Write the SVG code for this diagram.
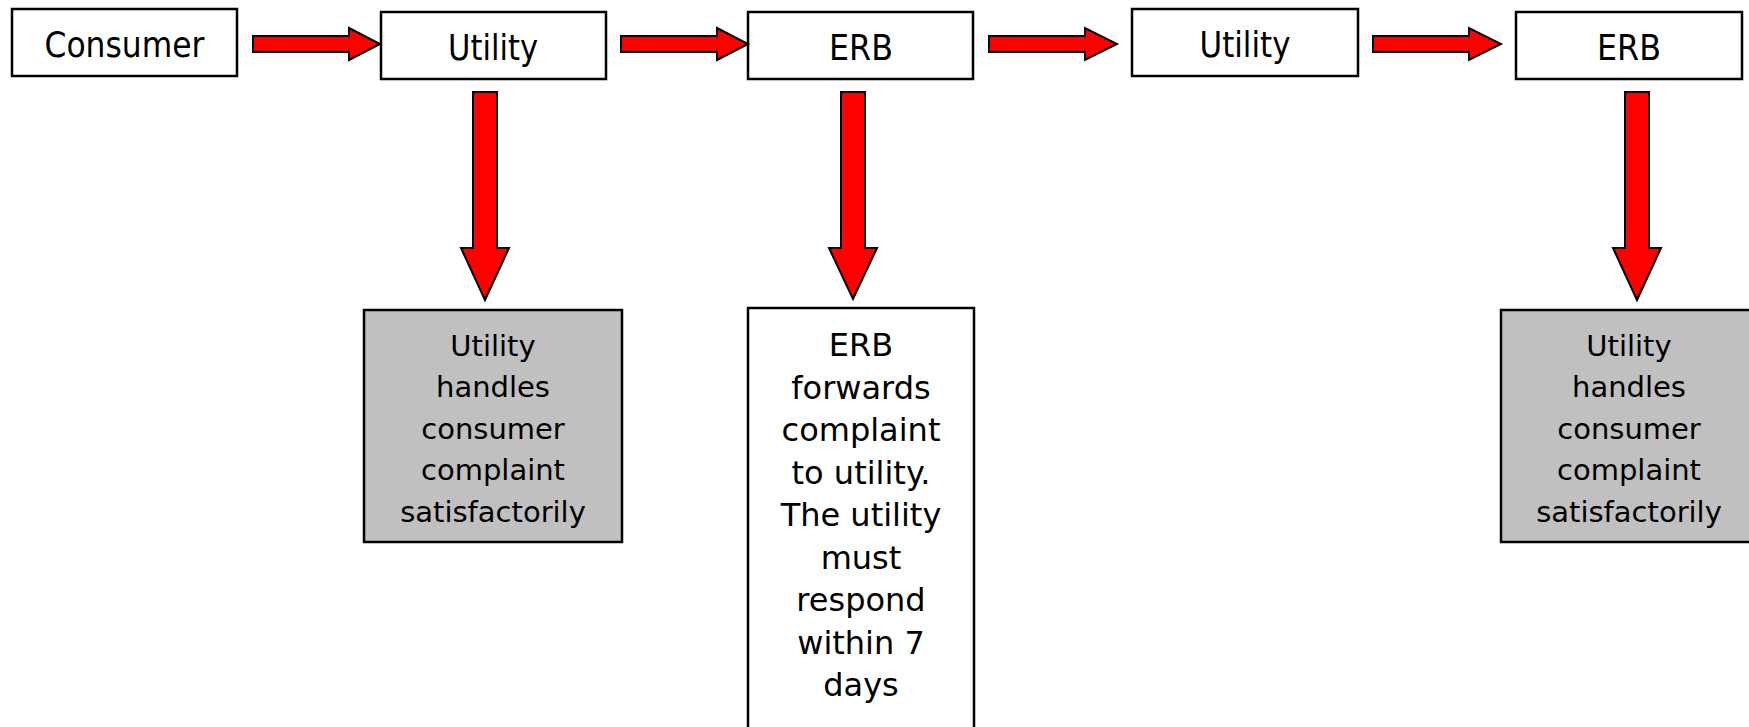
<svg xmlns="http://www.w3.org/2000/svg" width="1749" height="727" viewBox="0 0 1749 727">
<style>
.box{fill:#fff;stroke:#000;stroke-width:2.5}
.gray{fill:#c0c0c0;stroke:#000;stroke-width:2.5}
.arrow{fill:#ff0000;stroke:#000;stroke-width:2;stroke-linejoin:miter}
text{font-family:"DejaVu Sans",Verdana,sans-serif;fill:#000;text-anchor:middle}
.top{font-size:36px}
.g{font-size:29px}
.e{font-size:32px}
</style>
<rect width="1749" height="727" fill="#fff"/>
<g id="consumer"><rect class="box" x="12" y="9" width="225" height="67"/><text class="top" x="124.5" y="57" textLength="160" lengthAdjust="spacingAndGlyphs">Consumer</text></g>
<g id="utility1"><rect class="box" x="381" y="12" width="225" height="67"/><text class="top" x="493" y="60" textLength="90" lengthAdjust="spacingAndGlyphs">Utility</text></g>
<g id="erb1"><rect class="box" x="748" y="12" width="225" height="67"/><text class="top" x="861" y="60" textLength="64" lengthAdjust="spacingAndGlyphs">ERB</text></g>
<g id="utility2"><rect class="box" x="1132" y="9" width="226" height="67"/><text class="top" x="1245" y="57" textLength="91" lengthAdjust="spacingAndGlyphs">Utility</text></g>
<g id="erb2"><rect class="box" x="1516" y="12" width="226" height="67"/><text class="top" x="1629" y="60" textLength="64" lengthAdjust="spacingAndGlyphs">ERB</text></g>
<g id="result1"><rect class="gray" x="364" y="310" width="258" height="232"/>
<text class="g" x="493" y="356">Utility</text><text class="g" x="493" y="397">handles</text><text class="g" x="493" y="439">consumer</text><text class="g" x="493" y="480">complaint</text><text class="g" x="493" y="522">satisfactorily</text></g>
<g id="result2"><rect class="box" x="748" y="308" width="226" height="440"/>
<text class="e" x="861" y="356">ERB</text><text class="e" x="861" y="399">forwards</text><text class="e" x="861" y="441">complaint</text><text class="e" x="861" y="484">to utility.</text><text class="e" x="861" y="526">The utility</text><text class="e" x="861" y="569">must</text><text class="e" x="861" y="611">respond</text><text class="e" x="861" y="654">within 7</text><text class="e" x="861" y="696">days</text></g>
<g id="result3"><rect class="gray" x="1501" y="310" width="260" height="232"/>
<text class="g" x="1629" y="356">Utility</text><text class="g" x="1629" y="397">handles</text><text class="g" x="1629" y="439">consumer</text><text class="g" x="1629" y="480">complaint</text><text class="g" x="1629" y="522">satisfactorily</text></g>
<g id="connectors">
<polygon class="arrow" points="253,36 349,36 349,28 380,44 349,60 349,52 253,52"/>
<polygon class="arrow" points="621,36 717,36 717,28 748,44 717,60 717,52 621,52"/>
<polygon class="arrow" points="989,36 1085,36 1085,28 1117,44 1085,60 1085,52 989,52"/>
<polygon class="arrow" points="1373,36 1469,36 1469,28 1501,44 1469,60 1469,52 1373,52"/>
<polygon class="arrow" points="473,92 497,92 497,248 509,248 485,300 461,248 473,248"/>
<polygon class="arrow" points="841,92 865,92 865,248 877,248 853,299 829,248 841,248"/>
<polygon class="arrow" points="1625,92 1649,92 1649,248 1661,248 1637,300 1613,248 1625,248"/>
</g>
</svg>
